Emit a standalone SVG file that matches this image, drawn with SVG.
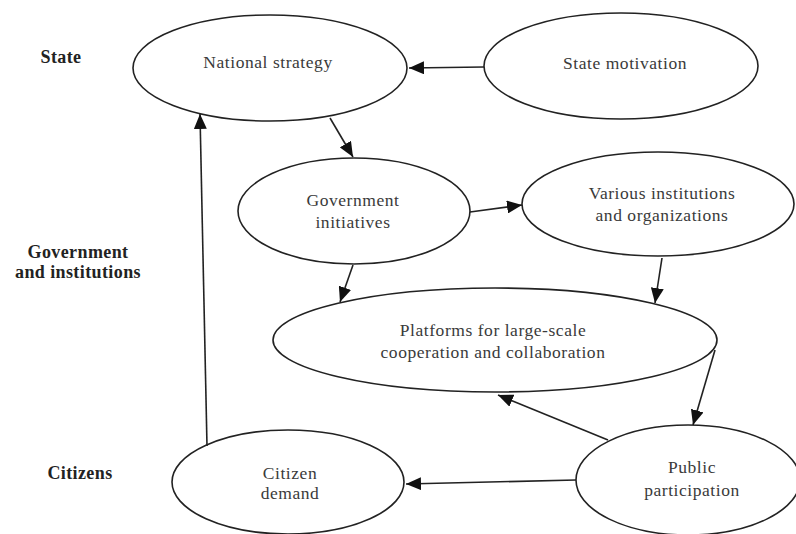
<svg xmlns="http://www.w3.org/2000/svg" width="796" height="534" viewBox="0 0 796 534">
<defs>
<style>
.node ellipse{fill:#fff;stroke:#222;stroke-width:1.6}
.node text{font-family:"Liberation Serif","Times New Roman",serif;font-size:17.5px;letter-spacing:0.55px;fill:#3a3a3a;text-anchor:middle}
.lbl{font-family:"Liberation Serif","Times New Roman",serif;font-size:18px;letter-spacing:0.4px;font-weight:bold;fill:#222;text-anchor:middle}
.edge{stroke:#222;stroke-width:1.6;fill:none;marker-end:url(#arr)}
</style>
<marker id="arr" markerUnits="userSpaceOnUse" markerWidth="15" markerHeight="13" refX="15" refY="6.5" orient="auto">
<path d="M0,0 L15,6.5 L0,13 z" fill="#111"/>
</marker>
</defs>
<rect width="796" height="534" fill="#fff"/>
<g id="labels">
<text class="lbl" x="61" y="63">State</text>
<text class="lbl" x="78" y="258">Government</text>
<text class="lbl" x="78" y="278">and institutions</text>
<text class="lbl" x="80" y="479">Citizens</text>
</g>
<g id="national-strategy" class="node">
<ellipse cx="270" cy="68" rx="137" ry="53"/>
<text x="268" y="68">National strategy</text>
</g>
<g id="state-motivation" class="node">
<ellipse cx="621" cy="66" rx="137" ry="53"/>
<text x="625" y="69">State motivation</text>
</g>
<g id="government-initiatives" class="node">
<ellipse cx="354" cy="211" rx="116" ry="53"/>
<text x="353" y="206">Government</text>
<text x="353" y="228">initiatives</text>
</g>
<g id="various-institutions" class="node">
<ellipse cx="658" cy="204" rx="136" ry="52"/>
<text x="662" y="199">Various institutions</text>
<text x="662" y="221">and organizations</text>
</g>
<g id="platforms" class="node">
<ellipse cx="495" cy="340" rx="222" ry="52"/>
<text x="493" y="336">Platforms for large-scale</text>
<text x="493" y="358">cooperation and collaboration</text>
</g>
<g id="public-participation" class="node">
<ellipse cx="688" cy="480" rx="112" ry="55"/>
<text x="692" y="473">Public</text>
<text x="692" y="496">participation</text>
</g>
<g id="citizen-demand" class="node">
<ellipse cx="288" cy="482" rx="116" ry="52"/>
<text x="290" y="479">Citizen</text>
<text x="290" y="499">demand</text>
</g>
<g id="connectors">
<line class="edge" x1="484" y1="67" x2="409" y2="68"/>
<line class="edge" x1="330" y1="118" x2="353" y2="157"/>
<line class="edge" x1="470" y1="212" x2="522" y2="205"/>
<line class="edge" x1="353" y1="265" x2="340" y2="302"/>
<line class="edge" x1="662" y1="258" x2="655" y2="303"/>
<line class="edge" x1="715" y1="350" x2="693" y2="425"/>
<line class="edge" x1="608" y1="440" x2="498" y2="395"/>
<line class="edge" x1="576" y1="480" x2="406" y2="484"/>
<line class="edge" x1="207" y1="446" x2="200" y2="114"/>
</g>
</svg>
